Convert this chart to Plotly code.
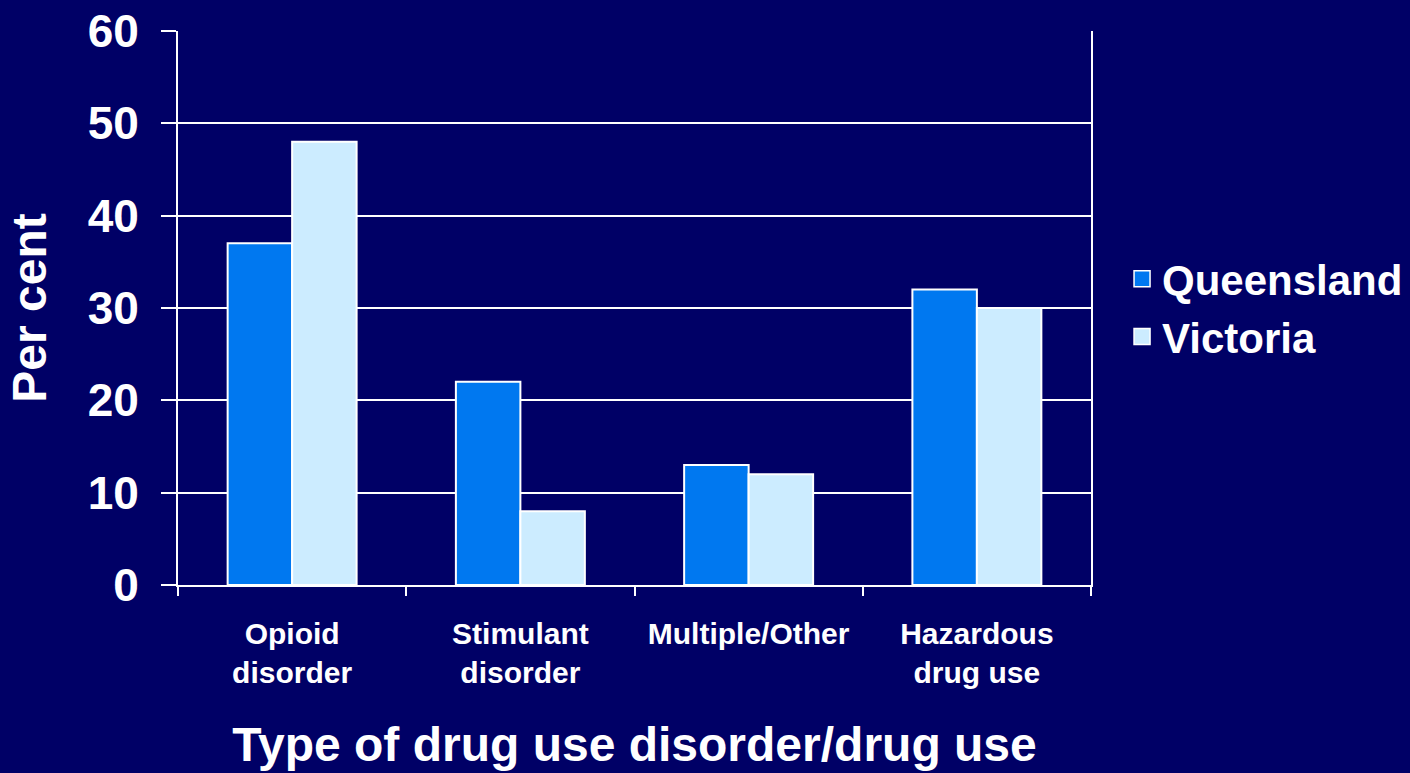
import plotly.graph_objects as go

categories = ["Opioid<br>disorder", "Stimulant<br>disorder", "Multiple/Other", "Hazardous<br>drug use"]
queensland = [37, 22, 13, 32]
victoria = [48, 8, 12, 30]
y_ticks = [0, 10, 20, 30, 40, 50, 60]

BG = "#000066"
Q_COL = "#0078F0"
V_COL = "#CCECFF"
FONT = "Arial, Liberation Sans, sans-serif"

fig = go.Figure()
fig.add_trace(go.Bar(x=categories, y=queensland, name="Queensland",
                     marker=dict(color=Q_COL, line=dict(color="white", width=2)),
                     showlegend=False))
fig.add_trace(go.Bar(x=categories, y=victoria, name="Victoria",
                     marker=dict(color=V_COL, line=dict(color="white", width=2)),
                     showlegend=False))
# legend proxies
for nm, col in [("Queensland", Q_COL), ("Victoria", V_COL)]:
    fig.add_trace(go.Scatter(x=[None], y=[None], mode="markers", name=nm,
                             marker=dict(symbol="square", size=24, color=col,
                                         line=dict(color="white", width=1.5))))

fig.update_layout(
    width=1410, height=773,
    paper_bgcolor=BG, plot_bgcolor=BG,
    margin=dict(l=178, r=319, t=31, b=188, autoexpand=False),
    barmode="group", bargap=0.435, bargroupgap=0,
    font=dict(family=FONT, color="white", weight="bold"),
    legend=dict(x=1.034, y=0.5, xanchor="left", yanchor="middle",
                font=dict(size=42, family=FONT, color="white", weight="bold"),
                bgcolor="rgba(0,0,0,0)", itemsizing="trace",
                itemwidth=30),
)
fig.update_xaxes(
    automargin=False,
    showline=True, linecolor="white", linewidth=2,
    ticks="outside", ticklen=9, tickwidth=2, tickcolor="white",
    tickson="boundaries", showgrid=False,
    tickfont=dict(size=30, family=FONT, color="white", weight="bold"),
    ticklabelstandoff=21,
    title=dict(text="Type of drug use disorder/drug use",
               font=dict(size=48, family=FONT, color="white", weight="bold"),
               standoff=39),
)
fig.update_yaxes(
    automargin=False,
    range=[0, 60], tickvals=y_ticks,
    showline=True, linecolor="white", linewidth=2, mirror=True,
    ticks="outside", ticklen=15, tickwidth=2, tickcolor="white",
    showgrid=True, gridcolor="white", gridwidth=2,
    zeroline=False,
    tickfont=dict(size=46, family=FONT, color="white", weight="bold"),
    ticklabelstandoff=13,
    title=dict(text="Per cent",
               font=dict(size=48, family=FONT, color="white", weight="bold"),
               standoff=26),
)

fig.write_html("out.html")
